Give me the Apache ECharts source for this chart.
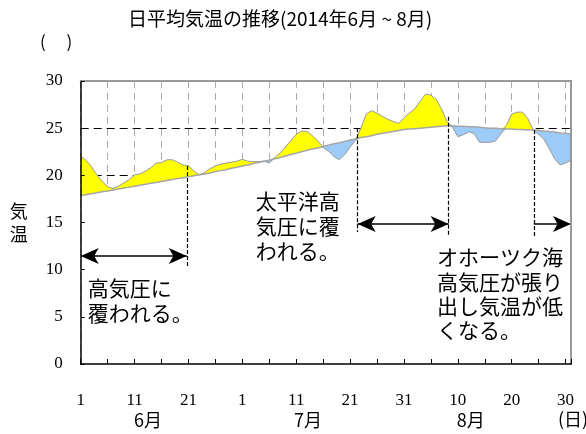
<!DOCTYPE html>
<html lang="ja" style="height: 100%">
<head>
  <meta charset="utf-8">
  <title>日平均気温の推移</title>
  <script type="text/javascript" src="https://fastly.jsdelivr.net/npm/echarts@6/dist/echarts.min.js"></script>
</head>
<body style="height: 100%; margin: 0">
  <div id="chart" style="width: 586px; height: 434px"></div>

  <script type="text/javascript">
    // 2014/6/1 .. 8/31 (day index 0..91)
    let actual = [
      22.0, 21.6, 20.9, 20.05, 19.35, 18.8, 18.6, 18.85, 19.2, 19.55,
      20.05, 20.15, 20.45, 20.8, 21.3, 21.35, 21.65, 21.65, 21.4, 21.1,
      21.0, 20.45, 20.05, 20.3, 20.7, 21.0, 21.2, 21.3, 21.4, 21.5,
      21.7, 21.5, 21.45, 21.45, 21.5, 21.3, 21.9, 22.35, 23.0, 23.7,
      24.35, 24.7, 24.65, 24.2, 23.65, 22.95, 22.55, 22.0, 21.65, 22.2,
      23.0, 23.7, 25.0, 26.5, 26.85, 26.6, 26.25, 25.95, 25.7, 25.5,
      26.1, 26.6, 27.05, 27.85, 28.6, 28.5, 28.05, 27.0, 25.7, 25.1,
      24.1, 24.3, 24.6, 24.45, 23.5, 23.5, 23.5, 23.65, 24.4, 25.3,
      26.5, 26.7, 26.7, 26.0, 24.8, 24.35, 23.8, 22.8, 21.7, 21.1,
      21.3, 21.6
    ];
    // 平年値
    let normal = [
      17.85, 17.95, 18.05, 18.15, 18.25, 18.35, 18.45, 18.55, 18.65, 18.75,
      18.85, 18.95, 19.05, 19.15, 19.25, 19.35, 19.45, 19.55, 19.65, 19.75,
      19.85, 19.95, 20.05, 20.15, 20.25, 20.4, 20.5, 20.6, 20.75, 20.85,
      21.0, 21.1, 21.25, 21.35, 21.5, 21.6, 21.75, 21.9, 22.05, 22.2,
      22.35, 22.5, 22.65, 22.8, 22.9, 23.05, 23.2, 23.35, 23.45, 23.6,
      23.75, 23.85, 24.0, 24.1, 24.2, 24.35, 24.45, 24.55, 24.65, 24.75,
      24.85, 24.9, 24.95, 25.0, 25.05, 25.1, 25.15, 25.2, 25.25, 25.25,
      25.2, 25.2, 25.15, 25.15, 25.1, 25.05, 25.0, 25.0, 24.95, 24.9,
      24.9, 24.85, 24.85, 24.8, 24.8, 24.75, 24.7, 24.65, 24.6, 24.5,
      24.45, 24.35
    ];
    let xTickLabels = ['1', '11', '21', '1', '11', '21', '31', '10', '20', '30'];
    let months = ['6月', '7月', '8月'];
    let monthCenters = [12.5, 42.2, 72.4];

    // 気圧配置の区切り (day index)
    let boundaries = [19.7, 51.4, 68.3, 84.1];
    let notes = [
      '高気圧に\n覆われる。',
      '太平洋高\n気圧に覆\nわれる。',
      'オホーツク海\n高気圧が張り\n出し気温が低\nくなる。'
    ];

    let last = actual.length - 1;
    let days = actual.map((v, i) => i);
    let pair = arr => arr.map((v, i) => [i, v]);
    let low = actual.map((v, i) => Math.min(v, normal[i]));
    let below = actual.map((v, i) => +(normal[i] - low[i]).toFixed(2));
    let above = actual.map((v, i) => +Math.max(v - normal[i], 0).toFixed(2));

    let jp = "'Noto Sans CJK JP', sans-serif";
    let serif = "'Liberation Serif', 'DejaVu Serif', serif";

    var dom = document.getElementById('chart');
    var myChart = echarts.init(dom);

    let dashed = (x, y1, y2) => [
      { coord: [x, y1], symbol: 'none', lineStyle: { type: [4, 2], width: 1.2, color: '#000' } },
      { coord: [x, y2], symbol: 'none' }
    ];
    let arrow = (x1, x2, y, both) => [
      { coord: [x1, y], symbol: both ? 'arrow' : 'none', lineStyle: { type: 'solid', width: 1.5, color: '#000' } },
      { coord: [x2, y], symbol: 'arrow' }
    ];

    let option = {
      animation: false,
      title: {
        text: '日平均気温の推移(2014年6月 ~ 8月)',
        left: 123,
        top: 4,
        textStyle: { fontFamily: jp, fontSize: 19, fontWeight: 'normal', color: '#000' }
      },
      graphic: [
        { type: 'text', left: 40, top: 33, style: { text: '(\u3000 )', font: '17px ' + jp, fill: '#000' } },
        { type: 'text', left: 558, top: 410, style: { text: '(日)', font: '18px ' + jp, fill: '#000' } }
      ],
      grid: { left: 80.7, right: 15, top: 81, bottom: 70, containLabel: false },
      xAxis: [
        {
          // 補助線用（日付カテゴリ）
          type: 'category', data: days, boundaryGap: false, position: 'bottom',
          axisLine: { show: false }, axisTick: { show: false }, axisLabel: { show: false },
          splitLine: { show: true, interval: 4, lineStyle: { color: '#ababab', type: [7, 5], width: 1 } }
        },
        {
          type: 'value', min: 0, max: last, interval: 5, position: 'bottom', z: 5,
          axisLine: { show: true, onZero: false, lineStyle: { color: '#000', width: 1.5 } },
          axisTick: { show: true, inside: true, length: 5, lineStyle: { color: '#000' } },
          axisLabel: {
            margin: 28, color: '#000', fontFamily: serif, fontSize: 17,
            formatter: v => (v % 10 === 0 ? xTickLabels[v / 10] : '')
          },
          splitLine: { show: false }
        },
        {
          type: 'value', min: 0, max: last, position: 'bottom',
          axisLine: { show: false }, axisTick: { show: false },
          axisLabel: {
            customValues: monthCenters, margin: 47, color: '#000', fontFamily: jp, fontSize: 18,
            formatter: v => months[monthCenters.indexOf(v)] || ''
          },
          splitLine: { show: false }
        },
        {
          type: 'value', min: 0, max: last, position: 'top', z: 5,
          axisLine: { show: true, onZero: false, lineStyle: { color: '#999', width: 2 } },
          axisTick: { show: false }, axisLabel: { show: false }, splitLine: { show: false }
        }
      ],
      yAxis: [
        {
          type: 'value', min: 0, max: 30, interval: 5,
          axisLine: { show: false }, axisTick: { show: false }, axisLabel: { show: false },
          splitLine: {
            show: true,
            lineStyle: { type: [8, 5], width: 1, color: ['transparent', 'transparent', 'transparent', 'transparent', '#000', '#000', 'transparent'] }
          }
        },
        {
          type: 'value', min: 0, max: 30, interval: 5, position: 'left', z: 5,
          axisLine: { show: true, onZero: false, lineStyle: { color: '#000', width: 1.5 } },
          axisTick: { show: true, inside: true, length: 4, lineStyle: { color: '#000' } },
          axisLabel: { margin: 18, color: '#000', fontFamily: serif, fontSize: 17 },
          splitLine: { show: false },
          name: '気\n温', nameLocation: 'middle', nameRotate: 0, nameGap: 53,
          nameTextStyle: { fontFamily: jp, fontSize: 18, color: '#000', lineHeight: 23 }
        },
        {
          type: 'value', min: 0, max: 30, position: 'right', z: 5,
          axisLine: { show: true, onZero: false, lineStyle: { color: '#999', width: 2 } },
          axisTick: { show: false }, axisLabel: { show: false }, splitLine: { show: false }
        }
      ],
      series: [
        {
          name: 'base', type: 'line', stack: 't', data: low, showSymbol: false, silent: true,
          lineStyle: { width: 0 }, areaStyle: { color: '#fff', opacity: 1 }, z: 2
        },
        {
          name: '低温', type: 'line', stack: 't', data: below, showSymbol: false, silent: true,
          lineStyle: { width: 0 }, areaStyle: { color: '#9dcbf7', opacity: 1 }, z: 2
        },
        {
          name: '高温', type: 'line', stack: 't', data: above, showSymbol: false, silent: true,
          lineStyle: { width: 0 }, areaStyle: { color: '#ffff00', opacity: 1 }, z: 2
        },
        {
          name: '平年値', type: 'line', xAxisIndex: 1, data: pair(normal), showSymbol: false, silent: true,
          lineStyle: { color: '#a6a6a6', width: 1.5 }, z: 3
        },
        {
          name: '日平均気温', type: 'line', xAxisIndex: 1, data: pair(actual), showSymbol: false, silent: true,
          lineStyle: { color: '#999', width: 1 }, z: 4,
          markLine: {
            silent: true,
            symbolSize: [12, 18],
            label: { show: false },
            data: [
              dashed(boundaries[0], 21.0, 10.3),
              dashed(boundaries[1], 25.0, 14.0),
              dashed(boundaries[2], 26.2, 13.5),
              dashed(boundaries[3], 24.8, 13.5),
              arrow(0, boundaries[0], 11.45, true),
              arrow(boundaries[1], boundaries[2], 14.85, true),
              arrow(boundaries[3], last, 14.85, false)
            ]
          },
          markPoint: {
            silent: true,
            symbol: 'circle', symbolSize: 1,
            itemStyle: { color: 'transparent' },
            label: {
              show: true, position: [0, 0], formatter: '{b}',
              fontFamily: jp, fontSize: 21, lineHeight: 25, color: '#000'
            },
            data: [
              { name: notes[0], coord: [1.4, 9.35] },
              { name: notes[1], coord: [32.6, 18.55] },
              { name: notes[2], coord: [66.2, 12.55], label: { lineHeight: 24.3 } }
            ]
          }
        }
      ]
    };

    myChart.setOption(option);
  </script>
</body>
</html>
